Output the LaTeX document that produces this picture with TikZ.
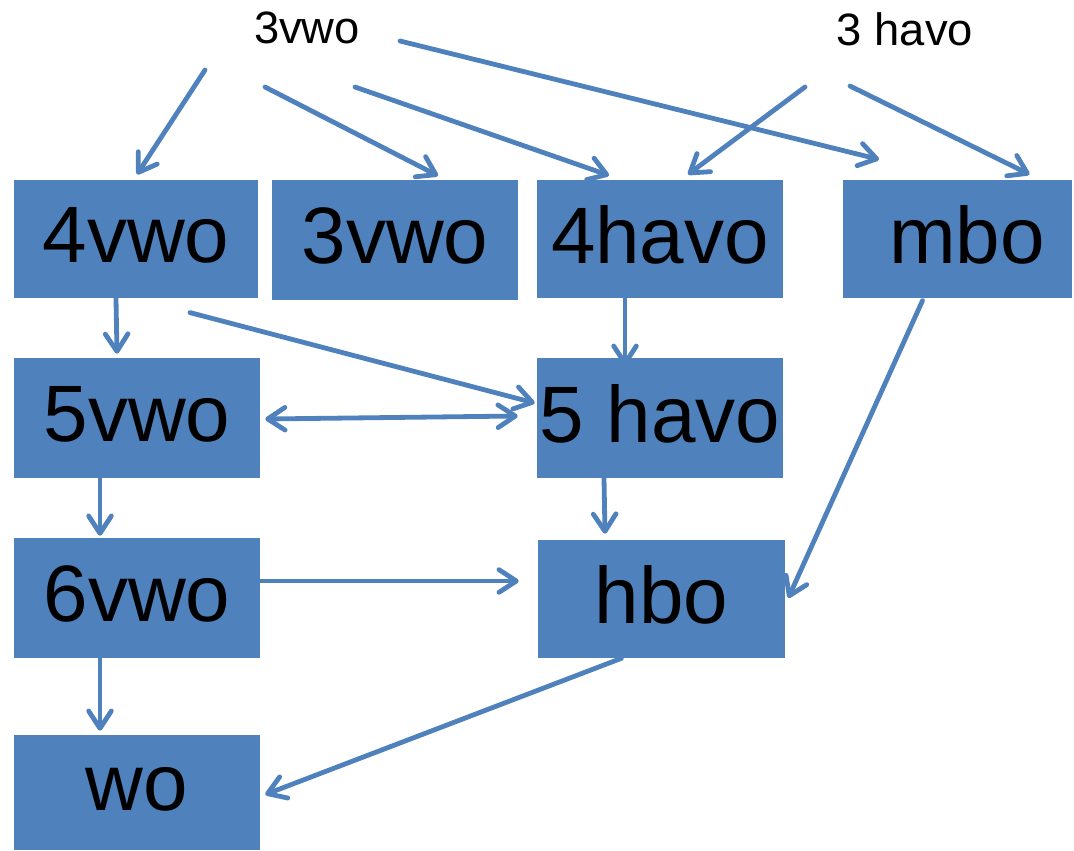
\documentclass[tikz,border=0pt]{standalone}
\usepackage{fontspec}
\setmainfont{Liberation Sans}
\usetikzlibrary{arrows.meta}
\definecolor{blauw}{HTML}{4F81BD}
\tikzset{
    blok/.style={
           rectangle,
           fill=blauw,
           minimum width=184.5pt,
           minimum height=89pt,
           inner sep=0pt,
           text depth=6pt,
           text centered,
           font=\fontsize{60}{60}\selectfont,
           },
    kop/.style={
           inner sep=0pt,
           font=\fontsize{34}{34}\selectfont,
           },
    pijl/.style={
           draw=blauw,
           line width=3.6pt,
           line cap=round,
           -{Straight Barb[length=13pt,width=17pt,round]},
           },
}

\begin{document}
\begin{tikzpicture}[x=0.75pt,y=-0.75pt]
   \useasboundingbox (0,0) rectangle (1074,850);
   % bovenste rij
   \node[blok,minimum width=183pt] (v4) at (136,239) {4vwo};
   \node[blok,minimum height=90pt] (v3) at (395,240) {3vwo};
   \node[blok] (h4) at (660,239) {4havo};
   \node[blok,minimum width=171.75pt] (mb) at (957.5,239) {\hspace{14pt}mbo};
   % tweede en derde rij
   \node[blok,minimum height=90pt] (v5) at (137,418) {5vwo};
   \node[blok,minimum height=90pt] (h5) at (660,418) {5 havo};
   \node[blok,minimum height=90pt] (v6) at (137,598) {6vwo};
   \node[blok,minimum width=185.25pt,minimum height=88.5pt] (hb) at (661.5,599) {hbo};
   \node[blok,minimum height=86.25pt] (wo) at (137,792.5) {wo};
   % koppen
   \node[kop] (t3v) at (307,28) {3vwo};
   \node[kop] (t3h) at (905,29) {3 havo};

   % vanuit 3vwo en 3 havo
   \draw[pijl] ([shift={(-102,42)}]t3v.center) -- ([shift={(1,-5)}]v4.north);
   \draw[pijl] ([shift={(-42,59)}]t3v.center) -- ([shift={(43,-4)}]v3.north);
   \draw[pijl] ([shift={(48,59)}]t3v.center) -- ([shift={(-51,-4)}]h4.north);
   \draw[pijl] ([shift={(93,13)}]t3v.center) -- ([shift={(-78.5,-20)}]mb.north);
   \draw[pijl] ([shift={(-100,58)}]t3h.center) -- ([shift={(28,-5)}]h4.north);
   \draw[pijl] ([shift={(-55,57)}]t3h.center) -- ([shift={(72,-5)}]mb.north);
   % doorstroom
   \draw[pijl] ([shift={(-20,0)}]v4.south) -- ([shift={(-20,-4)}]v5.north);
   \draw[pijl] ([shift={(54,14)}]v4.south) -- ([shift={(-2,-15)}]h5.west);
   \draw[pijl,{Straight Barb[length=13pt,width=17pt,round]}-{Straight Barb[length=13pt,width=17pt,round]}]
        ([shift={(5,1)}]v5.east) -- ([shift={(-19,-2)}]h5.west);
   \draw[pijl] ([shift={(-35,0)}]h4.south) -- ([shift={(-35,8)}]h5.north);
   \draw[pijl] ([shift={(-35,2)}]mb.south) -- ([shift={(3,-1)}]hb.east);
   \draw[pijl] ([shift={(-37,0)}]v5.south) -- ([shift={(-37,-2)}]v6.north);
   \draw[pijl] ([shift={(-56,0)}]h5.south) -- ([shift={(-56.5,-6)}]hb.north);
   \draw[pijl] ([shift={(-8,-17)}]v6.east) -- ([shift={(-19,-18)}]hb.west);
   \draw[pijl] ([shift={(-37,0)}]v6.south) -- ([shift={(-37,-4)}]wo.north);
   \draw[pijl] ([shift={(-40,0)}]hb.south) -- ([shift={(5,2)}]wo.east);
\end{tikzpicture}
\end{document}
